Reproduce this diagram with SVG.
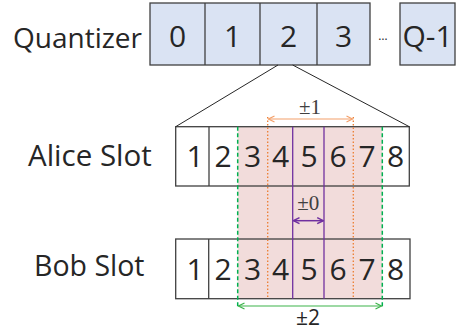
<svg xmlns="http://www.w3.org/2000/svg" width="457" height="333" viewBox="0 0 457 333">
<defs>
<style>
.lbl{font-family:"Open Sans","Liberation Sans",sans-serif;fill:#262626}
.qd{font-family:"Open Sans","Liberation Sans",sans-serif;font-size:30px;fill:#262626;text-anchor:middle}
.sd{font-family:"Open Sans","Liberation Sans",sans-serif;font-size:30px;fill:#262626;text-anchor:middle}
.pm{font-family:"Liberation Serif","Times New Roman",serif;font-size:21px;fill:#404040;text-anchor:middle}
.q{fill:#dae3f3;stroke:#404040;stroke-width:1.3}
.s{fill:none;stroke:#404040;stroke-width:1.3}
</style>
<marker id="ao" markerWidth="8" markerHeight="8" refX="7" refY="4" orient="auto-start-reverse" markerUnits="userSpaceOnUse"><path d="M1,1 L7,4 L1,7" fill="none" stroke="#f4a06a" stroke-width="1.2"/></marker>
<marker id="ap" markerWidth="8" markerHeight="8" refX="7" refY="4" orient="auto-start-reverse" markerUnits="userSpaceOnUse"><path d="M1,1 L7,4 L1,7" fill="none" stroke="#7030a0" stroke-width="1.5"/></marker>
<marker id="ag" markerWidth="8" markerHeight="8" refX="7" refY="4" orient="auto-start-reverse" markerUnits="userSpaceOnUse"><path d="M1,1 L7,4 L1,7" fill="none" stroke="#3cb44b" stroke-width="1.2"/></marker>
</defs>
<rect width="457" height="333" fill="#ffffff"/>

<g id="quantizer">
<text class="lbl" x="13" y="48" font-size="28">Quantizer</text>
<rect class="q" x="150" y="3" width="220" height="62"/>
<line class="s" x1="205" y1="3" x2="205" y2="65"/>
<line class="s" x1="260" y1="3" x2="260" y2="65"/>
<line class="s" x1="317" y1="3" x2="317" y2="65"/>
<text class="qd" x="177.5" y="47">0</text>
<text class="qd" x="232.5" y="47">1</text>
<text class="qd" x="288.5" y="47">2</text>
<text class="qd" x="343.5" y="47">3</text>
<text class="lbl" x="383" y="40" font-size="12" text-anchor="middle">…</text>
<rect class="q" x="400" y="3" width="55" height="62"/>
<text class="qd" x="427.5" y="47">Q-1</text>
</g>

<g id="pink-region">
<rect x="237.7" y="126.7" width="144.6" height="172" fill="#f2dcdb"/>
</g>

<g id="alice">
<text class="lbl" x="28" y="166" font-size="29.5">Alice Slot</text>
<rect class="s" x="175.7" y="126.7" width="233.6" height="59.3"/>
<line class="s" x1="209" y1="126.7" x2="209" y2="186"/>
<text class="sd" x="195" y="167">1</text>
<text class="sd" x="223" y="167">2</text>
<text class="sd" x="252.7" y="167">3</text>
<text class="sd" x="280.5" y="167">4</text>
<text class="sd" x="309" y="167">5</text>
<text class="sd" x="338" y="167">6</text>
<text class="sd" x="367" y="167">7</text>
<text class="sd" x="395.5" y="167">8</text>
</g>

<g id="bob">
<text class="lbl" x="34" y="276" font-size="28.5">Bob Slot</text>
<rect class="s" x="175.7" y="239" width="234.3" height="59.7"/>
<line class="s" x1="208.7" y1="239" x2="208.7" y2="298.7"/>
<text class="sd" x="195" y="280">1</text>
<text class="sd" x="223" y="280">2</text>
<text class="sd" x="252.7" y="280">3</text>
<text class="sd" x="280.5" y="280">4</text>
<text class="sd" x="309" y="280">5</text>
<text class="sd" x="338" y="280">6</text>
<text class="sd" x="367" y="280">7</text>
<text class="sd" x="395.5" y="280">8</text>
</g>

<g id="connectors">
<line x1="278" y1="65" x2="175.7" y2="126.7" stroke="#262626" stroke-width="1"/>
<line x1="292.7" y1="65" x2="409.3" y2="126.7" stroke="#262626" stroke-width="1"/>
<line x1="267.7" y1="117" x2="267.7" y2="298.7" stroke="#ed7d31" stroke-width="1.3" stroke-dasharray="1.5,2"/>
<line x1="353.3" y1="117" x2="353.3" y2="298.7" stroke="#ed7d31" stroke-width="1.3" stroke-dasharray="1.5,2"/>
<line x1="292.7" y1="126.7" x2="292.7" y2="298.7" stroke="#7030a0" stroke-width="1.3"/>
<line x1="324" y1="126.7" x2="324" y2="298.7" stroke="#7030a0" stroke-width="1.3"/>
<line x1="237.7" y1="126.7" x2="237.7" y2="308" stroke="#00b050" stroke-width="1.5" stroke-dasharray="4,2.5"/>
<line x1="382.3" y1="126.7" x2="382.3" y2="308" stroke="#00b050" stroke-width="1.5" stroke-dasharray="4,2.5"/>
<line x1="268.5" y1="119" x2="352.5" y2="119" stroke="#f4a06a" stroke-width="1.2" marker-start="url(#ao)" marker-end="url(#ao)"/>
<line x1="293.5" y1="220.7" x2="323.2" y2="220.7" stroke="#7030a0" stroke-width="1.5" marker-start="url(#ap)" marker-end="url(#ap)"/>
<line x1="238.5" y1="306" x2="381.5" y2="306" stroke="#3cb44b" stroke-width="1.2" marker-start="url(#ag)" marker-end="url(#ag)"/>
<text class="pm" x="310" y="114">±1</text>
<text class="pm" x="308.3" y="210">±0</text>
<text class="lbl" x="308" y="325" font-size="21" text-anchor="middle">±2</text>
</g>
</svg>
